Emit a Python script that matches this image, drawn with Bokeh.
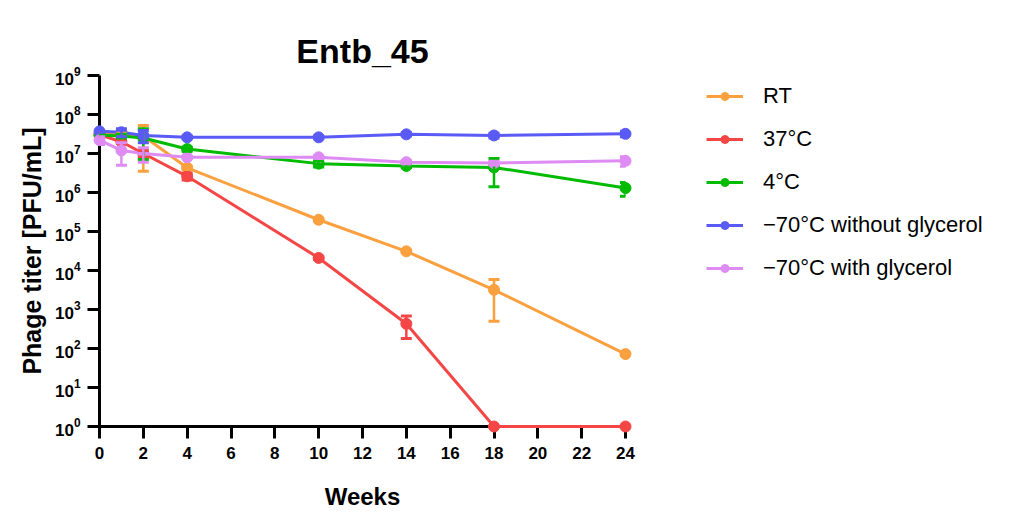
from bokeh.plotting import figure
from bokeh.models import (ColumnDataSource, Whisker, Legend, LegendItem,
                          FixedTicker, TeeHead, LinearAxis)
from bokeh.embed import file_html
from bokeh.resources import INLINE

# Sampling time points (weeks)
weeks = [0, 1, 2, 4, 10, 14, 18, 24]

# Mean phage titers (PFU/mL) and standard deviations per storage condition
rt_mean = [3.2e7, 3.0e7, 2.8e7, 4.3e6, 2.0e5, 3.1e4, 3.2e3, 72]
rt_sd = [2.0e6, 3.0e6, 2.45e7, 4.0e5, 1.5e4, 2.0e3, 2.7e3, 5]

c37_mean = [3.0e7, 2.0e7, 1.0e7, 2.6e6, 2.1e4, 430, 1, 1]
c37_sd = [2.0e6, 2.0e6, 2.0e6, 5.0e5, 1.5e3, 250, 0, 0]

c4_mean = [3.0e7, 2.8e7, 2.5e7, 1.3e7, 5.5e6, 4.8e6, 4.4e6, 1.3e6]
c4_sd = [2.0e6, 3.0e6, 1.8e7, 1.5e6, 1.0e6, 5.0e5, 3.0e6, 5.0e5]

m70_mean = [3.7e7, 3.5e7, 2.9e7, 2.6e7, 2.6e7, 3.1e7, 2.9e7, 3.2e7]
m70_sd = [2.0e6, 8.0e6, 1.0e7, 2.0e6, 2.0e6, 3.0e6, 4.0e6, 5.0e6]

m70g_mean = [2.2e7, 1.2e7, 1.0e7, 8.0e6, 8.0e6, 6.0e6, 5.7e6, 6.5e6]
m70g_sd = [5.0e6, 7.0e6, 4.0e6, 5.0e5, 6.0e5, 5.0e5, 6.0e5, 1.8e6]

labels = ["RT", "37°C", "4°C", "−70°C without glycerol", "−70°C with glycerol"]
colors = ["#FBA03E", "#F54646", "#00BB00", "#5A5AF6", "#DE8BF4"]
means = [rt_mean, c37_mean, c4_mean, m70_mean, m70g_mean]
sds = [rt_sd, c37_sd, c4_sd, m70_sd, m70g_sd]

y_ticks = [10.0 ** k for k in range(0, 10)]
x_ticks = list(range(0, 25, 2))

FONT = "Liberation Sans"

p = figure(frame_width=526, frame_height=351, y_axis_type="log",
           x_range=(0, 24), y_range=(1, 1e9),
           output_backend="svg", toolbar_location=None,
           title="Entb_45",
           min_border_left=99, min_border_right=0,
           min_border_top=75, min_border_bottom=88)

xax = p.xaxis[0]
yax = p.yaxis[0]

p.grid.visible = False
p.outline_line_color = None
p.background_fill_color = "white"

p.title.text_font = FONT
p.title.text_font_size = "34px"
p.title.text_font_style = "bold"
p.title.text_color = "black"
p.title.align = "center"
p.title.vertical_align = "top"
p.title.standoff = 8

# Blank band between the title and the plot area: an axis whose line,
# ticks and labels are not painted but still reserve their height
spacer = LinearAxis(ticker=FixedTicker(ticks=[12]), axis_line_color=None,
                    major_tick_line_color=None, minor_tick_line_color=None,
                    major_tick_out=0, major_label_standoff=6,
                    major_label_text_font_size="17px",
                    major_label_text_color=None)
p.add_layout(spacer, "above")

for ax in (xax, yax):
    ax.axis_line_width = 3
    ax.axis_line_color = "black"
    ax.major_tick_line_width = 3
    ax.major_tick_line_color = "black"
    ax.major_tick_out = 12
    ax.major_tick_in = 0
    ax.minor_tick_line_color = None
    ax.axis_label_text_font = FONT
    ax.axis_label_text_font_style = "bold"
    ax.axis_label_text_color = "black"
    ax.major_label_text_font = FONT
    ax.major_label_text_font_style = "bold"
    ax.major_label_text_color = "black"
    ax.major_label_text_font_size = "17px"

xax.ticker = FixedTicker(ticks=x_ticks)
xax.axis_label = "Weeks"
xax.axis_label_text_font_size = "24px"
xax.major_label_standoff = 8
xax.axis_label_standoff = 21

yax.ticker = FixedTicker(ticks=y_ticks)
yax.axis_label = "Phage titer [PFU/mL]"
yax.axis_label_text_font_size = "25px"
yax.major_label_standoff = 7
yax.axis_label_standoff = 6

items = []
for name, color, m, s in zip(labels, colors, means, sds):
    lower = [max(a - b, 1e-9) for a, b in zip(m, s)]
    upper = [a + b for a, b in zip(m, s)]
    src = ColumnDataSource(dict(x=weeks, y=m, lower=lower, upper=upper))
    w = Whisker(source=src, base="x", lower="lower", upper="upper",
                line_color=color, line_width=2.5, level="overlay",
                upper_head=TeeHead(size=11, line_color=color, line_width=3),
                lower_head=TeeHead(size=11, line_color=color, line_width=3))
    p.add_layout(w)
    lr = p.line("x", "y", source=src, line_color=color, line_width=3,
                level="overlay")
    sr = p.scatter("x", "y", source=src, size=11, marker="circle",
                   fill_color=color, line_color=color, level="overlay")
    items.append(LegendItem(label=name, renderers=[lr, sr]))

legend = Legend(items=items, location=(81, 145),
                label_text_font=FONT, label_text_font_size="22px",
                label_text_color="black",
                glyph_width=37, glyph_height=20, label_height=20,
                spacing=17, padding=0, margin=0, label_standoff=20,
                border_line_color=None, background_fill_alpha=0)
p.add_layout(legend, "right")

open("out.html", "w").write(file_html(p, INLINE))
